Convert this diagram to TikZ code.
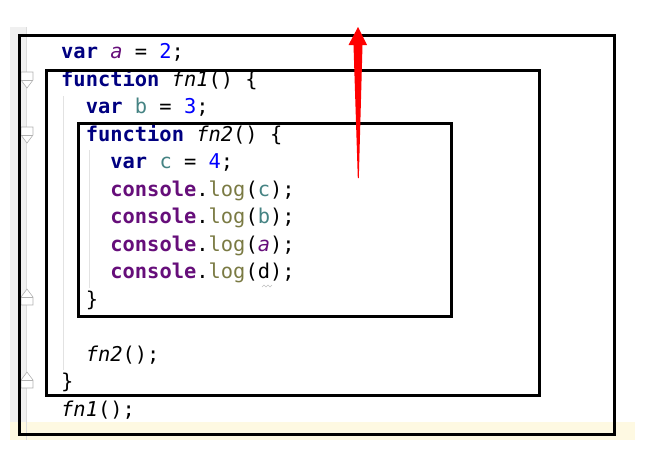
\documentclass[tikz,border=0pt]{standalone}
\usepackage{fontspec}
\setmonofont{DejaVu Sans Mono}
\definecolor{kwc}{HTML}{000080}
\definecolor{glc}{HTML}{660E7A}
\definecolor{numc}{HTML}{0000FF}
\definecolor{locc}{HTML}{458383}
\definecolor{logc}{HTML}{7A7A43}
\definecolor{gutc}{HTML}{F0F0F0}
\definecolor{gutl}{HTML}{DCDCDC}
\definecolor{curl}{HTML}{FEF9E2}
\definecolor{guide}{HTML}{E2E2E2}
\newcommand{\jkw}[1]{\textcolor{kwc}{\bfseries #1}}
\newcommand{\jgv}[1]{\textcolor{glc}{\itshape #1}}
\newcommand{\jnm}[1]{\textcolor{numc}{#1}}
\newcommand{\jlv}[1]{\textcolor{locc}{#1}}
\newcommand{\jcs}{\textcolor{glc}{\bfseries console}}
\newcommand{\jlog}{\textcolor{logc}{log}}
\newcommand{\jfn}[1]{{\itshape #1}}
\tikzset{
  code/.style={anchor=base west, inner sep=0pt, font=\ttfamily\fontsize{20.4}{24}\selectfont, text=black},
  scopebox/.style={draw=black, line width=3pt},
  foldmark/.style={draw=gray!60, fill=white, line width=0.6pt},
}
\begin{document}
\begin{tikzpicture}[x=1pt,y=-1pt]
\useasboundingbox (0,0) rectangle (666,464);
% editor background
\fill[gutc] (10,27) rectangle (27,422);
\fill[curl] (10,422) rectangle (635,440);
\draw[gutl, line width=0.8pt] (26.5,27) -- (26.5,440);
% indent guides
\draw[guide, line width=0.8pt] (63,96) -- (63,370);
\draw[guide, line width=0.8pt] (89,150) -- (89,288);
% fold markers
\draw[foldmark] (21,72) -- (33,72) -- (33,80) -- (27,88) -- (21,80) -- cycle;
\draw[foldmark] (21,80) -- (33,80);
\draw[foldmark] (21,127) -- (33,127) -- (33,135) -- (27,143) -- (21,135) -- cycle;
\draw[foldmark] (21,135) -- (33,135);
\draw[foldmark] (21,305) -- (33,305) -- (33,297) -- (27,289) -- (21,297) -- cycle;
\draw[foldmark] (21,297) -- (33,297);
\draw[foldmark] (21,388) -- (33,388) -- (33,380) -- (27,372) -- (21,380) -- cycle;
\draw[foldmark] (21,380) -- (33,380);
% code lines
\node[code] (l1) at (61,58) {\jkw{var} \jgv{a} = \jnm{2};};
\node[code] (l2) at (61,86) {\jkw{function} \jfn{fn1}() \{};
\node[code] (l3) at (85.6,113.5) {\jkw{var} \jlv{b} = \jnm{3};};
\node[code] (l4) at (85.6,141) {\jkw{function} \jfn{fn2}() \{};
\node[code] (l5) at (110.2,168.5) {\jkw{var} \jlv{c} = \jnm{4};};
\node[code] (l6) at (110.2,196) {\jcs.\jlog(\jlv{c});};
\node[code] (l7) at (110.2,223.5) {\jcs.\jlog(\jlv{b});};
\node[code] (l8) at (110.2,251) {\jcs.\jlog(\jgv{a});};
\node[code] (l9) at (110.2,278.5) {\jcs.\jlog(d);};
\node[code] (l10) at (85.6,306) {\}};
\node[code] (l11) at (85.6,361) {\jfn{fn2}();};
\node[code] (l12) at (61,388.5) {\}};
\node[code] (l13) at (61,416) {\jfn{fn1}();};
% squiggle under d
\draw[gray!50, line width=0.5pt] (262,287) -- (264,285) -- (266,287) -- (268,285) -- (270,287) -- (272,285);
% scope boxes
\draw[scopebox] (19,35) rectangle (614,434);
\draw[scopebox] (46,70) rectangle (539,395);
\draw[scopebox] (78,123) rectangle (451,316);
% red arrow
\fill[red] (358,27) -- (367,45) -- (362.5,45) -- (358.8,178) -- (357.8,178) -- (353.5,45) -- (348.5,45) -- cycle;
\end{tikzpicture}
\end{document}
